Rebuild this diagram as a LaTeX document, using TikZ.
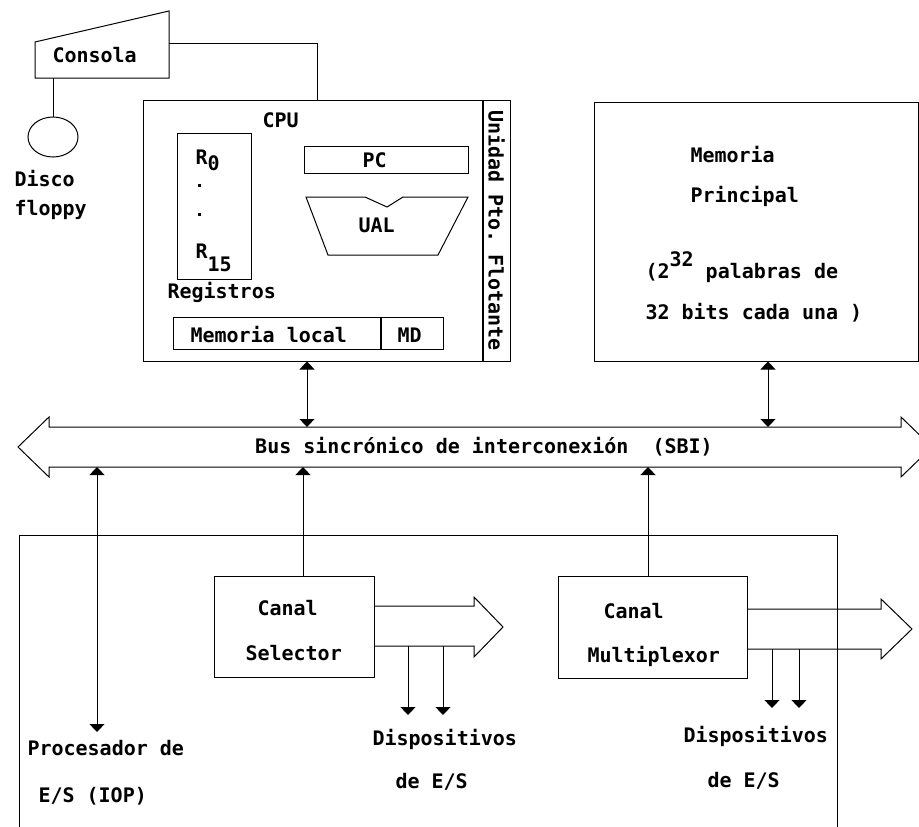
\documentclass[tikz,border=0pt]{standalone}
\usepackage{fontspec}
\setmonofont{DejaVu Sans Mono}
\usetikzlibrary{arrows.meta,positioning,shapes.geometric,calc}
\tikzset{every picture/.prefix style={execute at begin picture={\ttfamily\bfseries}}}
\begin{document}
\begin{tikzpicture}[x=1pt,y=-1pt,line width=1pt,
  lab/.style={font=\ttfamily\bfseries\fontsize{20}{24}\selectfont,inner sep=0pt,anchor=base west},
  box/.style={draw,inner sep=0pt},
  tip/.style={-{Triangle[width=15pt,length=8pt]}},
  dtip/.style={{Triangle[width=15pt,length=8pt]}-{Triangle[width=15pt,length=8pt]}}]
\useasboundingbox (0,0) rectangle (919,827);
\clip (0,0) rectangle (919,827);
% consola y disco
\draw (35,42) -- (169,11) -- (169,78) -- (35,78) -- cycle;
\coordinate (conR) at (169,43);
\coordinate (conB) at (53,78);
\node[lab] (consola) at (52,62) {Consola};
\node[draw,ellipse,minimum width=50pt,minimum height=40pt,inner sep=0pt] (disco) at (53,137) {};
\node[lab] (discolab) at (14,186) {Disco};
\node[lab] (floppy) at (14,215) {floppy};
\draw (conB) -- (disco.north);
% CPU
\node[box,minimum width=339pt,minimum height=261pt] (cpu) at (312.5,230.5) {};
\node[box,minimum width=27pt,minimum height=261pt,anchor=west] (fpu) at (cpu.east) {};
\node[lab,anchor=center,rotate=-90] (fpulab) at (fpu.center) {Unidad Pto. Flotante};
\coordinate (cputop) at ($(cpu.north)+(4.5,0)$);
\draw (conR) -| (cputop);
\node[lab] (cpulab) at (262,127) {CPU};
\node[box,minimum width=74pt,minimum height=146pt] (regs) at (214,206) {};
\node[lab] (r0) at (195,164) {R\raisebox{-6pt}{0}};
\fill (197.5,183.5) rectangle (201,187);
\fill (197.5,212.5) rectangle (201,216);
\node[lab] (r15) at (195,258) {R\raisebox{-13pt}{15}};
\node[lab] (regslab) at (167,298) {Registros};
\node[box,minimum width=164pt,minimum height=27pt] (pc) at (386,159.5) {};
\node[lab] (pclab) at (362,167) {PC};
\draw (306,197) -- (365,197) -- (387,207) -- (403,197) -- (468,197) -- (438,255) -- (328,255) -- cycle;
\node[lab] (ual) at (358,232) {UAL};
\node[box,minimum width=207pt,minimum height=32pt] (memloc) at (276.5,333) {};
\node[box,minimum width=62pt,minimum height=32pt,anchor=west] (md) at (memloc.east) {};
\node[lab] (memloclab) at (190,342) {Memoria local};
\node[lab] (mdlab) at (397,342) {MD};
% memoria principal
\node[box,minimum width=324pt,minimum height=259pt] (mem) at (756,231.5) {};
\node[lab] (mem1) at (690,162) {Memoria};
\node[lab] (mem2) at (690,202) {Principal};
\node[lab] (mem3) at (645,278) {(2\raisebox{12pt}{32} palabras de};
\node[lab] (mem4) at (645,319) {32 bits cada una )};
% bus
\draw (49,427) -- (901,427) -- (901,417) -- (932,447) -- (901,477) -- (901,467) -- (49,467) -- (49,477) -- (18,447) -- (49,417) -- cycle;
\node[lab,anchor=base] (bus) at (484,453) {Bus sincrónico de interconexión\ \ (SBI)};
\coordinate (bustop) at (0,427);
\coordinate (busbot) at (0,467);
\coordinate (cpuport) at ($(cpu.south)+(-5.5,0)$);
\coordinate (memport) at ($(mem.south)+(12,0)$);
\draw[dtip] (cpuport) -- (cpuport |- bustop);
\draw[dtip] (memport) -- (memport |- bustop);
% E/S
\node[box,minimum width=818pt,minimum height=300pt] (iop) at (428,685) {};
\node[lab] (ioplab1) at (27,755) {Procesador de};
\node[lab] (ioplab2) at (38,802) {E/S (IOP)};
\coordinate (iopend) at (97,732);
\draw[dtip] (iopend) -- (iopend |- busbot);
\node[box,minimum width=160pt,minimum height=101pt] (sel) at (294,626.5) {};
\node[lab] (sel1) at (257,615) {Canal};
\node[lab] (sel2) at (245,660) {Selector};
\node[box,minimum width=189pt,minimum height=102pt] (mux) at (652.5,627) {};
\node[lab] (mux1) at (603,618) {Canal};
\node[lab] (mux2) at (587,662) {Multiplexor};
\coordinate (selport) at ($(sel.north)+(9,0)$);
\coordinate (muxport) at ($(mux.north)+(-4.5,0)$);
\draw[tip] (selport) -- (selport |- busbot);
\draw[tip] (muxport) -- (muxport |- busbot);
\draw (374,606) -- (474,606) -- (474,597) -- (503,627) -- (474,657) -- (474,646) -- (374,646);
\draw (747,609) -- (881,609) -- (881,599) -- (912,629) -- (881,659) -- (881,649) -- (747,649);
\foreach \x in {408,443} \draw[tip] (\x,646) -- (\x,715);
\foreach \x in {772,799} \draw[tip] (\x,649) -- (\x,708);
\node[lab] (dis1a) at (372,745) {Dispositivos};
\node[lab] (dis1b) at (395,788) {de E/S};
\node[lab] (dis2a) at (683,742) {Dispositivos};
\node[lab] (dis2b) at (707,787) {de E/S};
\end{tikzpicture}
\end{document}
